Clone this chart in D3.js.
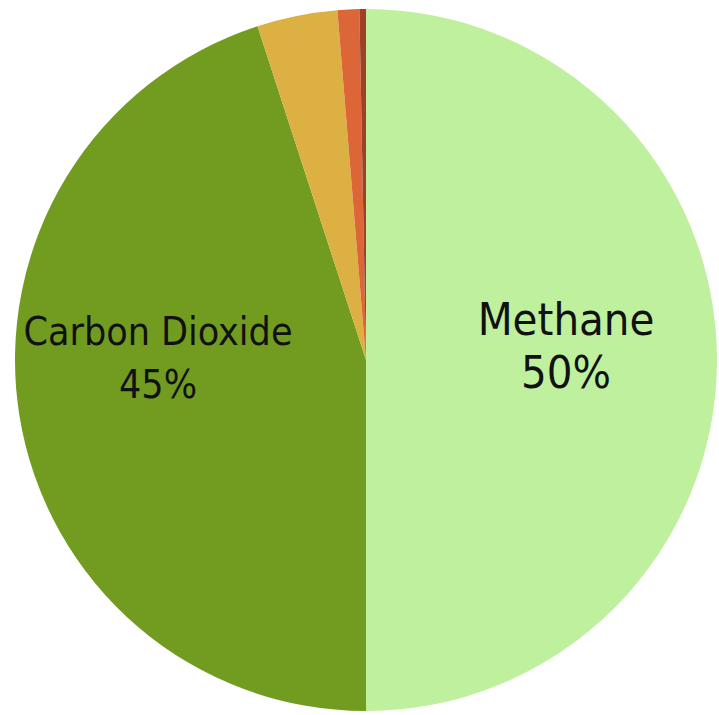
<!DOCTYPE html>
<html>
<head>
<meta charset="utf-8">
<script src="https://cdn.jsdelivr.net/npm/d3@7"></script>
<style>
  body { margin: 0; background: #fff; }
  text { font-family: "DejaVu Sans Condensed", "DejaVu Sans", sans-serif; fill: #111; }
</style>
</head>
<body>
<svg></svg>
<script>
const gases = ['Methane', 'Carbon Dioxide', 'Other 1', 'Other 2', 'Other 3'];
const shares = [50, 45, 3.7, 1.0, 0.3];
const labels = ['Methane', 'Carbon Dioxide', '', '', ''];
const colors = ['#bff09d', '#719c20', '#dcb042', '#dc6638', '#9e4128'];

const width = 719;
const height = 715;
const cx = 366, cy = 360, radius = 351;

const svg = d3.select('svg')
    .attr('width', width)
    .attr('height', height);

const data = gases.map((g, i) => ({gas: g, share: shares[i], label: labels[i]}));

const color = d3.scaleOrdinal().domain(gases).range(colors);

const pie = d3.pie()
    .value(d => d.share)
    .sort(null);

const arc = d3.arc()
    .innerRadius(0)
    .outerRadius(radius);

const g = svg.append('g')
  .attr('transform', `translate(${cx}, ${cy})`);

const arcs = pie(data);

g.selectAll('path').data(arcs)
    .enter().append('path')
    .attr('d', arc)
    .attr('fill', d => color(d.data.gas));

// labels sit near the middle height, pushed out along the slice
const labelR = d => radius * (d.data.gas === 'Methane' ? 0.57 : 0.6);
const labelArc = d3.arc()
    .innerRadius(labelR)
    .outerRadius(labelR);

const fontSize = d => d.data.gas === 'Methane' ? '45px' : '39px';

const lab = g.selectAll('.lab').data(arcs.filter(d => d.data.label))
    .enter().append('g')
    .attr('class', 'lab')
    .attr('transform', d => {
        const [x, y] = labelArc.centroid(d);
        return `translate(${x}, ${y * 0.3})`;
    });

lab.append('text')
    .attr('text-anchor', 'middle')
    .attr('y', -25)
    .style('font-size', fontSize)
    .text(d => d.data.label);

lab.append('text')
    .attr('text-anchor', 'middle')
    .attr('y', 28)
    .style('font-size', fontSize)
    .text(d => d3.format('.0f')(d.data.share) + '%');
</script>
</body>
</html>
